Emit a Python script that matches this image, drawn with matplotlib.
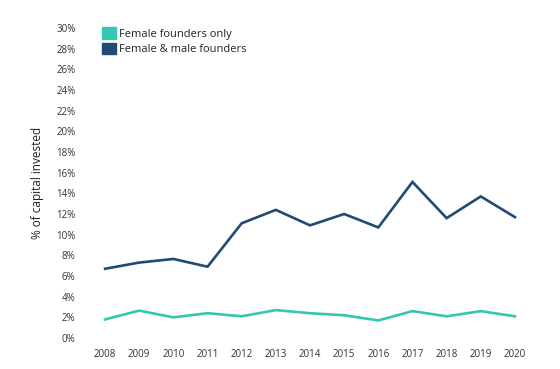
import matplotlib
matplotlib.use("Agg")
import matplotlib.pyplot as plt
from matplotlib.patches import Patch

years = list(range(2008, 2021))
female_only = [1.8, 2.65, 2.0, 2.4, 2.1, 2.7, 2.4, 2.2, 1.7, 2.6, 2.1, 2.6, 2.1]
female_male = [6.7, 7.3, 7.65, 6.9, 11.1, 12.4, 10.9, 12.0, 10.7, 15.1, 11.6, 13.7, 11.7]
series_names = ["Female founders only", "Female & male founders"]
colors = ["#35c8b0", "#234a73"]
yticks = list(range(0, 31, 2))

plt.rcParams['font.family'] = ['Open Sans', 'DejaVu Sans']
fig = plt.figure(figsize=(5.6, 3.69), dpi=100)
ax = fig.add_axes([88/560, 31/369, (532-88)/560, 310/369])
ax.plot(years, female_only, color=colors[0], lw=1.9, solid_joinstyle='miter')
ax.plot(years, female_male, color=colors[1], lw=1.9, solid_joinstyle='miter')
ax.set_xlim(2007.5, 2020.5)
ax.set_ylim(0, 30)
ax.set_yticks(yticks)
ax.set_yticklabels([f"{v}%" for v in yticks])
ax.set_xticks(years)
ax.set_xticklabels([str(y) for y in years])
for s in ax.spines.values():
    s.set_visible(False)
ax.tick_params(length=0, labelsize=7, colors="#333333", pad=8)
ax.tick_params(axis='y', pad=9)
ax.set_ylabel("% of capital invested", fontsize=8.5, color="#222222", labelpad=9)
handles = [Patch(facecolor=c, edgecolor=c) for c in colors]
ax.legend(handles, series_names, loc='upper left', bbox_to_anchor=(0.01, 1.035), frameon=False,
          fontsize=8, handlelength=1.2, handleheight=1.2, handletextpad=0.3, labelspacing=0.3,
          labelcolor="#222222")
fig.savefig("out.png", dpi=100)
